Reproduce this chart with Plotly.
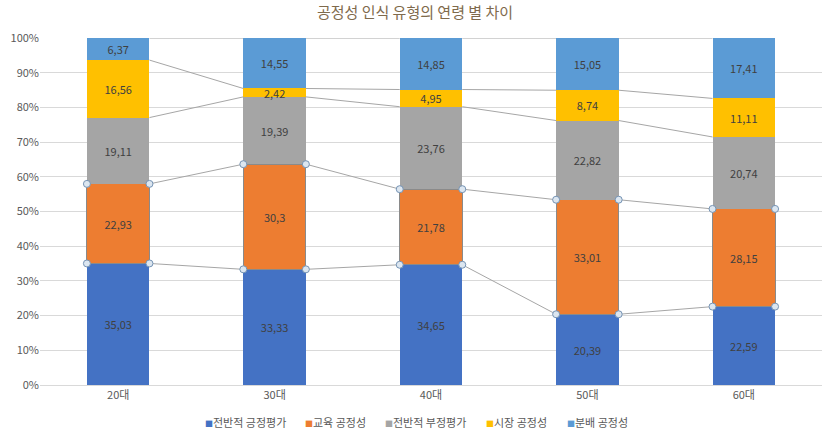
import plotly.graph_objects as go

categories = ["20대", "30대", "40대", "50대", "60대"]
series_names = ["전반적 긍정평가", "교육 공정성", "전반적 부정평가", "시장 공정성", "분배 공정성"]
s_pos = [35.03, 33.33, 34.65, 20.39, 22.59]
s_edu = [22.93, 30.3, 21.78, 33.01, 28.15]
s_neg = [19.11, 19.39, 23.76, 22.82, 20.74]
s_mkt = [16.56, 2.42, 4.95, 8.74, 11.11]
s_dist = [6.37, 14.55, 14.85, 15.05, 17.41]
y_ticks = [0, 10, 20, 30, 40, 50, 60, 70, 80, 90, 100]

series = [s_pos, s_edu, s_neg, s_mkt, s_dist]
colors = ["#4472C4", "#ED7D31", "#A5A5A5", "#FFC000", "#5B9BD5"]
legend_px = [203, 303, 383, 484, 565]  # left pixel of each legend item
BW = 0.4
xs = list(range(len(categories)))
W, H = 830, 438
ML, MR, MT, MB = 40, 8, 38, 53
FONT = "Noto Sans CJK KR"

def fmt(v):
    return ("%g" % v).replace(".", ",")

fig = go.Figure()
for name, vals, col in zip(series_names, series, colors):
    fig.add_trace(go.Bar(
        x=xs, y=vals, name=name, width=BW,
        marker=dict(color=col, line=dict(width=1 if name == "교육 공정성" else 0, color="#8a8a8a")),
        text=[fmt(v) for v in vals], textposition="inside", insidetextanchor="middle",
        textangle=0, textfont=dict(size=11, color="#404040", family=FONT),
        hoverinfo="skip", showlegend=False,
    ))

totals = [sum(s[i] for s in series) for i in xs]
cums = []
run = [0.0] * len(xs)
for s in series:
    run = [run[i] + s[i] / totals[i] * 100 for i in xs]
    cums.append(run[:])

for cum in cums:
    lx, ly = [], []
    for i in range(len(xs) - 1):
        lx += [xs[i] + BW / 2, xs[i + 1] - BW / 2, None]
        ly += [cum[i], cum[i + 1], None]
    fig.add_trace(go.Scatter(x=lx, y=ly, mode="lines", line=dict(color="#a6a6a6", width=1),
                             showlegend=False, hoverinfo="skip"))

hx, hy = [], []
for i in xs:
    for yv in (cums[0][i], cums[1][i]):
        hx += [xs[i] - BW / 2, xs[i] + BW / 2]
        hy += [yv, yv]
fig.add_trace(go.Scatter(x=hx, y=hy, mode="markers",
                         marker=dict(symbol="circle", size=7, color="#dce6f0",
                                     line=dict(color="#7593b4", width=1)),
                         showlegend=False, hoverinfo="skip"))

pw = W - ML - MR
ph = H - MT - MB
annotations = []
for name, col, px in zip(series_names, colors, legend_px):
    annotations.append(dict(
        xref="paper", yref="paper", x=(px - ML) / pw, y=-(422 - (H - MB)) / ph,
        xanchor="left", yanchor="middle", showarrow=False,
        text=f"<span style='color:{col};font-size:8px'>■</span>{name}",
        font=dict(size=11, color="#595959", family=FONT),
    ))

fig.update_layout(
    barmode="stack", barnorm="percent",
    width=W, height=H,
    margin=dict(l=ML, r=MR, t=MT, b=MB, autoexpand=False),
    paper_bgcolor="white", plot_bgcolor="white",
    font=dict(family=FONT, size=11, color="#595959"),
    title=dict(text="공정성 인식 유형의 연령 별 차이", x=0.5, xanchor="center",
               y=1 - 13 / H, yanchor="middle", yref="container",
               font=dict(size=15, color="#7F6A4C", family=FONT)),
    uniformtext=dict(minsize=11, mode="show"),
    showlegend=False,
    annotations=annotations,
)
fig.update_xaxes(range=[-0.5, len(xs) - 0.5], tickvals=xs, ticktext=categories,
                 showgrid=False, zeroline=False, showline=True, linecolor="#d9d9d9",
                 ticks="", tickfont=dict(size=11, color="#595959"), automargin=False)
fig.update_yaxes(range=[0, 100], tickvals=y_ticks, ticktext=[f"{t}%" for t in y_ticks],
                 showgrid=True, gridcolor="#d9d9d9", zeroline=False, showline=False,
                 ticks="", tickfont=dict(size=11, color="#595959"), automargin=False)

fig.write_html("out.html", config={"displayModeBar": False, "staticPlot": True},
               post_script="document.body.style.margin='0';document.body.style.overflow='hidden';")
